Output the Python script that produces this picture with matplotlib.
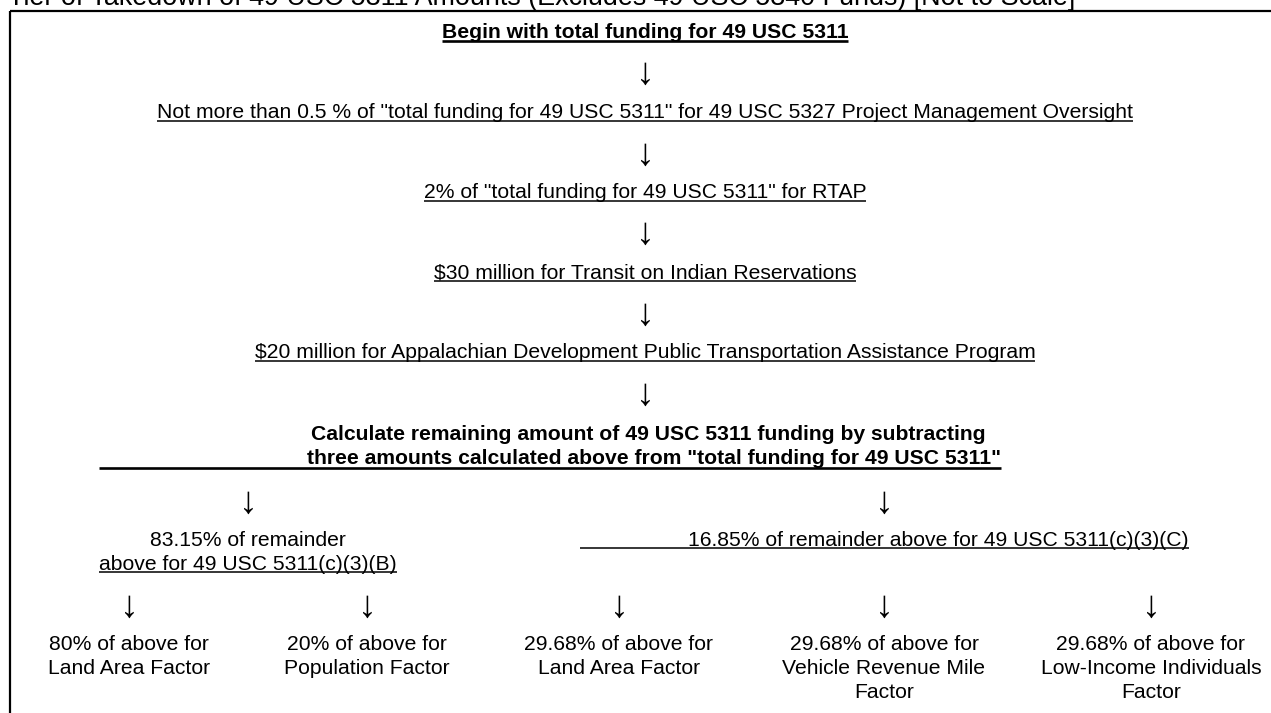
import matplotlib.pyplot as plt

plt.rcParams['font.family'] = ['Liberation Sans', 'DejaVu Sans']

title = 'Tier of Takedown of 49 USC 5311 Amounts (Excludes 49 USC 5340 Funds) [Not to Scale]'

top_steps = [
    'Begin with total funding for 49 USC 5311',
    'Not more than 0.5 % of "total funding for 49 USC 5311" for 49 USC 5327 Project Management Oversight',
    '2% of "total funding for 49 USC 5311" for RTAP',
    '$30 million for Transit on Indian Reservations',
    '$20 million for Appalachian Development Public Transportation Assistance Program',
]
top_bold = [True, False, False, False, False]

calc_lines = [
    'Calculate remaining amount of 49 USC 5311 funding by subtracting',
    'three amounts calculated above from "total funding for 49 USC 5311"',
]

split_b = ['83.15% of remainder', 'above for 49 USC 5311(c)(3)(B)']
split_c = '16.85% of remainder above for 49 USC 5311(c)(3)(C)'

factors_b = ['80% of above for\nLand Area Factor',
             '20% of above for\nPopulation Factor']
factors_c = ['29.68% of above for\nLand Area Factor',
             '29.68% of above for\nVehicle Revenue Mile\nFactor',
             '29.68% of above for\nLow-Income Individuals\nFactor']

W, H = 1271, 713
fs = 15.2

fig = plt.figure(figsize=(W / 100, H / 100), dpi=100)
ax = fig.add_axes([0, 0, 1, 1])
ax.set_xlim(0, W)
ax.set_ylim(H, 0)
ax.axis('off')

# frame: top rule and left edge
ax.plot([10, W], [11, 11], color='black', lw=1.6, solid_capstyle='butt')
ax.plot([10, 10], [11, H], color='black', lw=1.6, solid_capstyle='butt')

ax.text(8, 5, title, fontsize=19.4, ha='left', va='baseline')

underlines = []  # (text, left_override, y, lw)

def arrow(x, y):
    ax.text(x, y, '\u2193', fontsize=27, ha='center', va='center')

cx = 645
for i, s in enumerate(top_steps):
    yb = 38.5 + 80 * i
    t = ax.text(cx, yb, s, fontsize=fs, ha='center', va='baseline',
                fontweight='bold' if top_bold[i] else 'normal')
    underlines.append((t, None, yb + 2.5, 1.9 if top_bold[i] else 1.1))
for y in [74, 155, 234, 315, 395]:
    arrow(cx, y)

ax.text(648, 440.5, calc_lines[0], fontsize=fs, ha='center', va='baseline',
        fontweight='bold')
t2 = ax.text(1001, 464.5, calc_lines[1], fontsize=fs, ha='right', va='baseline',
             fontweight='bold')
underlines.append((t2, 99, 467.5, 1.9))

# split into (B) and (C)
xb, xc = 248, 884
arrow(xb, 503)
arrow(xc, 503)
ax.text(xb, 545.5, split_b[0], fontsize=fs, ha='center', va='baseline')
tb = ax.text(xb, 569.5, split_b[1], fontsize=fs, ha='center', va='baseline')
underlines.append((tb, None, 572, 1.1))
tc = ax.text(1189, 545.5, split_c, fontsize=fs, ha='right', va='baseline')
underlines.append((tc, 580, 548, 1.1))

# factor columns
cols_b = [129, 367]
cols_c = [619, 884, 1151]
for x, s in zip(cols_b + cols_c, factors_b + factors_c):
    arrow(x, 607)
    for k, line in enumerate(s.split('\n')):
        ax.text(x, 650.5 + 24 * k, line, fontsize=fs, ha='center', va='baseline')

fig.canvas.draw()
r = fig.canvas.get_renderer()
inv = ax.transData.inverted()
for t, left, y, lw in underlines:
    bb = t.get_window_extent(r)
    x0 = inv.transform((bb.x0, bb.y0))[0]
    x1 = inv.transform((bb.x1, bb.y0))[0]
    if left is not None:
        x0 = left
    ax.plot([x0, x1], [y, y], color='black', lw=lw, solid_capstyle='butt')

fig.savefig('out.png', dpi=100)
